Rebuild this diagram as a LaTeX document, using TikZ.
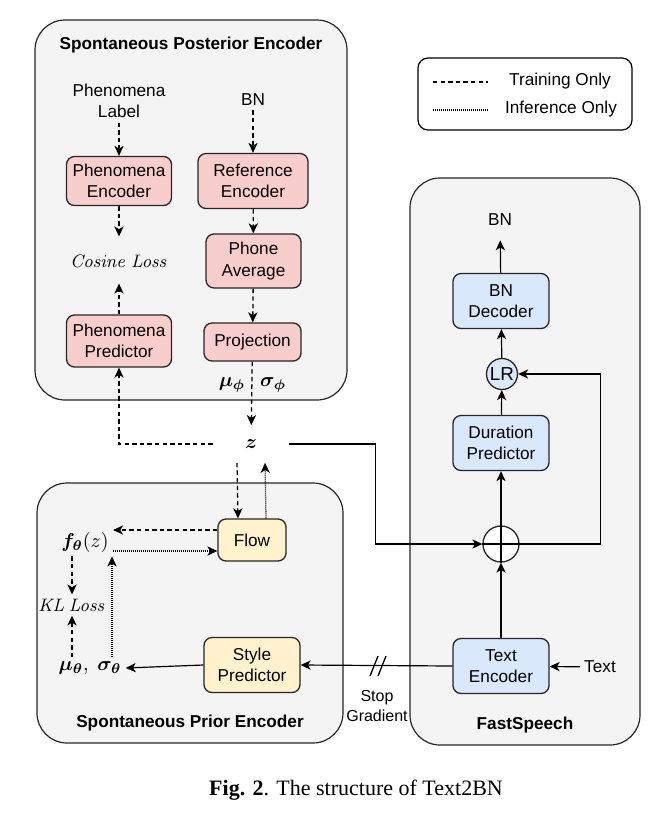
\documentclass[tikz,border=0pt]{standalone}
\usepackage{amsmath,bm}
\usepackage[no-math]{fontspec}
\setmainfont{Liberation Sans}
\newfontfamily\capfont{Liberation Serif}
\usepackage{tikz}
\usetikzlibrary{calc,arrows.meta}
\definecolor{PanelGray}{HTML}{F4F4F4}
\definecolor{PinkFill}{HTML}{F8CECC}
\definecolor{YellowFill}{HTML}{FFF2CC}
\definecolor{BlueFill}{HTML}{DAE8FC}
\tikzset{
	panel/.style = {draw=black!85, fill=PanelGray, rounded corners=15pt, line width=0.6pt},
	block/.style = {draw=black!85, rounded corners=4pt, align=center, inner sep=1pt, line width=0.65pt},
	pinkblock/.style = {block, fill=PinkFill},
	yellowblock/.style = {block, fill=YellowFill},
	blueblock/.style = {block, fill=BlueFill, minimum width=48pt, minimum height=27.5pt},
	lbl/.style = {align=center, inner sep=2pt},
	mathlbl/.style = {lbl, font=\fontsize{9.6}{11}\selectfont},
	losslbl/.style = {lbl, font=\fontsize{8.8}{11}\selectfont},
	tip/.style = {-{Stealth[length=5pt,width=4.6pt,inset=1.4pt]}},
	solidarrow/.style = {tip, line width=0.6pt},
	train/.style = {tip, line width=0.65pt, dash pattern=on 2.2pt off 1.6pt},
	infer/.style = {tip, line width=0.65pt, dash pattern=on 0.5pt off 0.5pt},
}

\begin{document}
\begin{tikzpicture}[x=0.5pt, y=-0.5pt, font=\fontsize{8.6}{10.8}\selectfont]
	\useasboundingbox (0,0) rectangle (651,821);

	\draw[panel] (35,20) rectangle (347,400);
	\draw[panel] (37,483) rectangle (343,743);
	\draw[panel] (410,178) rectangle (640,745);
	\draw[line width=0.6pt, rounded corners=5pt, fill=white] (418,58) rectangle (632,130);

	\node[lbl] (posttitle) at (191,45) {\bfseries Spontaneous Posterior Encoder};
	\node[lbl] (priortitle) at (190,723) {\bfseries Spontaneous Prior Encoder};
	\node[lbl] (fstitle) at (525,725) {\bfseries FastSpeech};

	\coordinate (legA) at (433,82);
	\coordinate (legB) at (488,82);
	\coordinate (legC) at (433,110);
	\coordinate (legD) at (488,110);
	\draw[train,-] (legA) -- (legB);
	\draw[infer,-] (legC) -- (legD);
	\node[lbl] (legtrain) at (560,81) {Training Only};
	\node[lbl] (leginfer) at (561,109) {Inference Only};

	\node[lbl] (phlabel) at (119,101) {Phenomena\\Label};
	\node[lbl] (bnin) at (253,100) {BN};
	\node[pinkblock, minimum width=52.5pt, minimum height=24.5pt] (phenc) at (119,181) {Phenomena\\Encoder};
	\node[pinkblock, minimum width=55pt, minimum height=27.5pt] (refenc) at (253,181) {Reference\\Encoder};
	\node[pinkblock, minimum width=47.5pt, minimum height=27pt] (phavg) at (253.5,261) {Phone\\Average};
	\node[pinkblock, minimum width=48.5pt, minimum height=19pt] (proj) at (252.5,342) {Projection};
	\node[pinkblock, minimum width=52.5pt, minimum height=26pt] (phpred) at (119,341) {Phenomena\\Predictor};
	\node[losslbl] (cosloss) at (119,261) {$\mathit{Cosine\ Loss}$};
	\node[mathlbl] (mu) at (232,385) {$\bm{\mu_\phi}$};
	\node[mathlbl] (sigma) at (273,385) {$\bm{\sigma_\phi}$};
	\node[mathlbl, inner xsep=16pt, inner ysep=7pt] (z) at (251,444) {$\bm{z}$};

	\draw[train] (phlabel) -- (phenc);
	\draw[train, shorten >=7pt] (phenc) -- (cosloss);
	\draw[train, shorten >=6pt] (phpred) -- (cosloss);
	\draw[train] (bnin) -- (refenc);
	\draw[train] (refenc) -- (phavg);
	\draw[train] (phavg) -- (proj);
	\draw[train] (proj) -- (z);
	\draw[train] (z.west) -| (phpred.south);

	\node[yellowblock, minimum width=34pt, minimum height=21pt] (flow) at (252,540) {Flow};
	\node[yellowblock, minimum width=48pt, minimum height=27.5pt] (stylepred) at (252,665) {Style\\Predictor};
	\node[mathlbl] (ftheta) at (85,542) {$\bm{f_\theta}(z)$};
	\node[losslbl] (klloss) at (72,605) {$\mathit{KL\ Loss}$};
	\node[mathlbl] (musig) at (90,668) {$\bm{\mu_\theta},\ \bm{\sigma_\theta}$};

	\draw[train] ([xshift=-7pt]z.south) -- ([xshift=-7pt]flow.north);
	\draw[infer] ([xshift=7pt]flow.north) -- ([xshift=7pt]z.south);
	\draw[train] ([yshift=5pt]flow.west) -- ([yshift=5pt]flow.west -| ftheta.east);
	\draw[infer] ([yshift=-5.5pt]flow.west -| ftheta.east) -- ([yshift=-5.5pt]flow.west);
	\draw[train] (klloss |- ftheta.south) -- (klloss.north);
	\draw[train] (klloss |- musig.north) -- (klloss.south);
	\draw[infer] ([xshift=11pt]musig.north) -- ([xshift=11pt]musig.north |- ftheta.south);
	\draw[solidarrow] (stylepred.west) -- (musig.east);

	\node[blueblock] (textenc) at (501,666) {Text\\Encoder};
	\node[blueblock] (durpred) at (501,443) {Duration\\Predictor};
	\node[blueblock] (bndec) at (501,301) {BN\\Decoder};
	\node[circle, draw=black!85, line width=0.65pt, fill=white, minimum size=18pt, inner sep=0pt] (plus) at (501,544) {};
	\node[circle, draw=black!85, line width=0.65pt, fill=BlueFill, minimum size=15.5pt, inner sep=0pt, font=\fontsize{9.4}{11}\selectfont] (lr) at (502,374) {LR};
	\node[lbl] (bnout) at (500,220) {BN};
	\node[lbl] (textin) at (600,667) {Text};
	\node[lbl, font=\fontsize{8}{9.6}\selectfont] (stopgrad) at (377,706) {Stop\\Gradient};

	\draw[line width=0.65pt] (plus.north) -- (plus.south) (plus.west) -- (plus.east);
	\draw[solidarrow] (z.east) -- ++(86,0) |- (plus.west);
	\draw[solidarrow] (textenc) -- (plus);
	\draw[solidarrow] (plus) -- (durpred);
	\draw[solidarrow] (durpred) -- (lr);
	\draw[solidarrow] (lr) -- (bndec);
	\draw[solidarrow, shorten >=5pt] (bndec) -- (bnout);
	\draw[solidarrow] (plus.east) -- ++(81,0) |- (lr.east);
	\draw[solidarrow] (textin) -- (textenc);
	\draw[solidarrow] (textenc.west) -- (stylepred.east);
	\coordinate (cut) at (377,666);
	\draw[line width=0.65pt] ($(cut)+(-7,10)$) -- ($(cut)+(1,-10)$) ($(cut)+(1,10)$) -- ($(cut)+(9,-10)$);

	\node[font=\fontsize{11}{13}\selectfont\capfont] (caption) at (356,790) {\textbf{Fig. 2}. The structure of Text2BN};
\end{tikzpicture}
\end{document}
